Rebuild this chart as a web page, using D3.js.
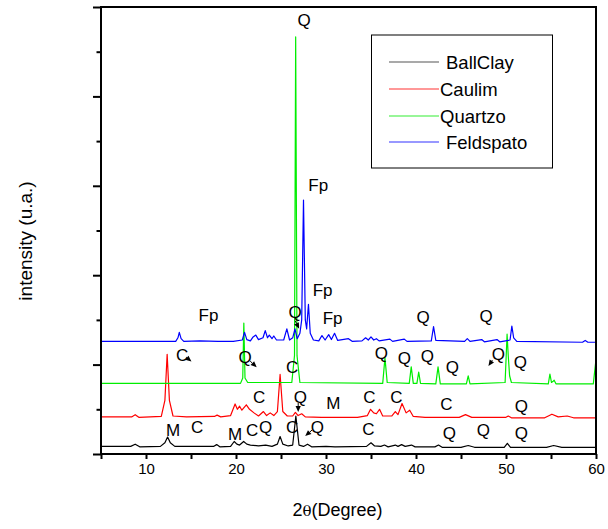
<!DOCTYPE html>
<html><head><meta charset="utf-8">
<script src="https://cdn.jsdelivr.net/npm/d3@7"></script>
<style>body{margin:0;background:#fff}svg{display:block;font-family:"Liberation Sans",Arial,sans-serif}</style>
</head><body>
<svg id="c" width="608" height="529"></svg>
<script>
// ---- data ----
const seriesNames = ["BallClay", "Caulim", "Quartzo", "Feldspato"];
const xTicksMajor = [10, 20, 30, 40, 50, 60];
const xTicksMinor = [5, 15, 25, 35, 45, 55];
const yTicksMajor = [0, 2, 4, 6, 8, 10];
const yTicksMinor = [1, 3, 5, 7, 9];

const ballClay = [[5,0.17],[8.3,0.17],[8.8,0.22],[9.3,0.16],[11.6,0.17],[12.1,0.25],[12.4,0.38],[12.7,0.25],[13.2,0.17],[17.5,0.17],[17.85,0.21],[18.2,0.16],[19.4,0.17],[19.8,0.28],[20.1,0.22],[20.4,0.2],[20.85,0.28],[21.2,0.22],[21.6,0.2],[22.5,0.18],[23.3,0.2],[24.0,0.17],[24.6,0.22],[24.9,0.39],[25.2,0.22],[25.8,0.18],[26.3,0.2],[26.65,0.85],[27.0,0.2],[27.5,0.17],[27.95,0.22],[28.4,0.16],[30.0,0.17],[31.0,0.16],[34.5,0.17],[35.0,0.25],[35.4,0.18],[36.1,0.17],[36.5,0.2],[36.9,0.16],[37.7,0.2],[38.0,0.17],[38.4,0.21],[38.8,0.17],[39.5,0.2],[39.9,0.16],[42.1,0.16],[42.5,0.2],[42.9,0.15],[45.0,0.15],[45.8,0.19],[46.5,0.15],[49.8,0.15],[50.15,0.24],[50.5,0.15],[54.5,0.15],[55.3,0.19],[56.2,0.15],[60,0.15]];

const caulim = [[5,0.83],[8.4,0.83],[8.8,0.88],[9.2,0.82],[11.7,0.84],[12.1,1.2],[12.35,2.23],[12.6,1.2],[13.0,0.85],[14.5,0.83],[17.6,0.84],[17.9,0.87],[18.3,0.83],[19.4,0.86],[19.9,1.12],[20.15,1.0],[20.4,1.07],[20.65,0.98],[21.15,1.1],[21.5,1.0],[22.0,0.92],[22.5,0.85],[23.05,0.95],[23.4,0.86],[23.8,0.92],[24.2,0.86],[24.6,0.95],[24.9,1.78],[25.2,0.95],[25.7,0.85],[26.3,0.85],[26.6,0.93],[26.9,0.86],[27.3,0.9],[27.7,0.83],[29.5,0.82],[33.5,0.82],[34.6,0.86],[34.95,1.0],[35.3,0.92],[35.6,0.9],[35.95,1.0],[36.3,0.85],[37.3,0.85],[37.7,0.95],[38.0,0.88],[38.45,1.13],[38.9,0.92],[39.3,0.98],[39.7,0.84],[41.0,0.82],[44.8,0.82],[45.5,0.88],[46.2,0.82],[50.0,0.82],[50.25,0.85],[50.6,0.81],[54.3,0.81],[55.1,0.89],[55.8,0.83],[56.8,0.85],[57.5,0.81],[60,0.81]];

const quartzo = [[5,1.58],[20.5,1.58],[20.75,1.7],[20.87,2.93],[21.0,1.7],[21.3,1.6],[26.2,1.6],[26.5,2.2],[26.63,9.33],[26.78,2.2],[27.1,1.6],[36.3,1.58],[36.55,2.15],[36.8,1.6],[39.25,1.58],[39.47,1.95],[39.7,1.58],[40.1,1.58],[40.3,1.83],[40.5,1.58],[42.2,1.57],[42.45,1.95],[42.7,1.57],[45.6,1.57],[45.8,1.75],[46.0,1.57],[49.9,1.6],[50.12,2.68],[50.25,2.2],[50.4,1.75],[50.6,1.6],[54.7,1.57],[54.88,1.79],[55.05,1.6],[55.2,1.62],[55.35,1.65],[55.55,1.57],[59.7,1.57],[59.97,2.06],[60,2.06]];

const feldspato = [[5,2.52],[13.3,2.52],[13.55,2.6],[13.7,2.72],[13.9,2.58],[14.2,2.52],[16.0,2.53],[18.0,2.52],[19.7,2.52],[20.7,2.55],[20.95,2.72],[21.2,2.56],[21.6,2.53],[21.9,2.62],[22.2,2.66],[22.5,2.56],[23.0,2.6],[23.25,2.76],[23.5,2.6],[23.7,2.66],[24.0,2.58],[24.2,2.64],[24.5,2.55],[25.3,2.55],[25.65,2.8],[25.95,2.55],[26.3,2.6],[26.55,2.8],[26.8,2.58],[27.1,2.7],[27.3,3.0],[27.5,5.68],[27.7,3.0],[27.85,2.8],[28.05,3.35],[28.25,2.7],[28.6,2.55],[29.2,2.53],[29.55,2.65],[29.9,2.55],[30.3,2.67],[30.6,2.56],[30.95,2.7],[31.3,2.54],[32.5,2.58],[32.9,2.52],[34.0,2.53],[34.4,2.6],[34.7,2.55],[35.0,2.62],[35.3,2.55],[35.6,2.58],[35.9,2.53],[37.1,2.57],[37.4,2.52],[38.7,2.57],[39.0,2.52],[41.7,2.53],[41.95,2.85],[42.2,2.54],[45.4,2.52],[45.7,2.58],[46.0,2.52],[47.3,2.56],[47.6,2.51],[49.0,2.56],[49.3,2.51],[50.45,2.55],[50.65,2.86],[50.85,2.6],[51.2,2.52],[58.5,2.5],[58.8,2.54],[59.1,2.5],[60,2.5]];

// peak labels: [2theta, intensity, text]
const peakLabels = [[27.58,9.71,"Q"],[29.14,6.02,"Fp"],[16.94,3.11,"Fp"],[26.58,3.18,"Q"],[29.62,3.67,"Fp"],[30.73,3.04,"Fp"],[40.78,3.07,"Q"],[47.79,3.09,"Q"],
[14.01,2.21,"C"],[21.02,2.17,"Q"],[26.25,1.95,"C"],[36.15,2.26,"Q"],[38.70,2.15,"Q"],[41.26,2.19,"Q"],[44.04,1.95,"Q"],[49.16,2.24,"Q"],[51.61,2.06,"Q"],
[22.57,1.28,"C"],[27.14,1.28,"Q"],[30.81,1.14,"M"],[34.81,1.28,"C"],[37.81,1.28,"C"],[43.38,1.12,"C"],[51.72,1.07,"Q"],
[13.01,0.54,"M"],[15.68,0.60,"C"],[19.91,0.45,"M"],[21.8,0.54,"C"],[23.3,0.60,"Q"],[26.25,0.60,"C"],[29.03,0.60,"Q"],[34.70,0.56,"C"],[43.71,0.47,"Q"],[47.49,0.54,"Q"],[51.72,0.47,"Q"]];
// arrows: [from2theta, fromI, to2theta, toI]
const peakArrows = [[14.45,2.17,15.05,2.07],[21.57,2.08,22.3,1.94],[26.58,2.98,27.02,2.80],[48.49,2.10,48.05,1.97],[26.91,1.14,26.91,0.94],[28.47,0.54,27.69,0.40]];

// ---- drawing ----
const series = [ballClay, caulim, quartzo, feldspato];
const colors = ["#000000", "#ff0000", "#00ee00", "#0000ff"];
const legendColors = ["#555555", "#ff3333", "#33ee33", "#3333ff"];
const W = 608, H = 529;
const m = {l: 101, r: 12, t: 7, b: 75};
const svg = d3.select("#c");
const x = d3.scaleLinear().domain([5, 60]).range([m.l, W - m.r]);
const y = d3.scaleLinear().domain([0, 10]).range([H - m.b, m.t]);

svg.append("defs").append("clipPath").attr("id", "clip")
  .append("rect").attr("x", m.l).attr("y", m.t).attr("width", W - m.r - m.l).attr("height", H - m.b - m.t);

const line = d3.line().x(d => x(d[0])).y(d => y(d[1]));
const g = svg.append("g").attr("clip-path", "url(#clip)");
series.forEach((s, i) => {
  g.append("path").datum(s).attr("d", line).attr("fill", "none")
    .attr("stroke", colors[i]).attr("stroke-width", 1.2).attr("stroke-linejoin", "round");
});

// frame
svg.append("rect").attr("x", m.l).attr("y", m.t).attr("width", W - m.r - m.l).attr("height", H - m.b - m.t)
  .attr("fill", "none").attr("stroke", "#000").attr("stroke-width", 2);

// x axis
const xa = svg.append("g").attr("transform", `translate(0,${H - m.b})`)
  .call(d3.axisBottom(x).tickValues(xTicksMajor).tickSize(5).tickPadding(4).tickFormat(d3.format("d")));
xa.select(".domain").remove();
xa.selectAll("line").attr("stroke-width", 2);
xa.selectAll("text").attr("font-size", 15).attr("fill", "#000").attr("font-family", "Liberation Sans, Arial, sans-serif");
const xm = svg.append("g").attr("transform", `translate(0,${H - m.b})`)
  .call(d3.axisBottom(x).tickValues(xTicksMinor).tickSize(5).tickFormat(""));
xm.select(".domain").remove();
xm.selectAll("line").attr("stroke-width", 2);

// y axis
const ya = svg.append("g").attr("transform", `translate(${m.l},0)`)
  .call(d3.axisLeft(y).tickValues(yTicksMajor).tickSize(8).tickFormat(""));
ya.select(".domain").remove();
ya.selectAll("line").attr("stroke-width", 2);
const ym = svg.append("g").attr("transform", `translate(${m.l},0)`)
  .call(d3.axisLeft(y).tickValues(yTicksMinor).tickSize(4.5).tickFormat(""));
ym.select(".domain").remove();
ym.selectAll("line").attr("stroke-width", 2);

// axis titles
const xt = svg.append("text").attr("x", (m.l + W - m.r) / 2 - 11).attr("y", 516).attr("text-anchor", "middle")
  .attr("font-size", 18).attr("fill", "#000");
xt.append("tspan").text("2");
xt.append("tspan").attr("font-family", "DejaVu Serif, serif").attr("font-size", 15).text("θ");
xt.append("tspan").text("(Degree)");
svg.append("text").attr("transform", `translate(32,241) rotate(-90)`).attr("text-anchor", "middle")
  .attr("font-size", 19).attr("fill", "#000").text("intensity (u.a.)");

// peak labels
svg.append("g").selectAll("text").data(peakLabels).join("text")
  .attr("x", d => x(d[0])).attr("y", d => y(d[1])).attr("dy", "0.36em").attr("text-anchor", "middle")
  .attr("font-size", 17).attr("fill", "#000").text(d => d[2]);

// arrows
const ag = svg.append("g");
peakArrows.forEach(a => {
  const x1 = x(a[0]), y1 = y(a[1]), x2 = x(a[2]), y2 = y(a[3]);
  const ang = Math.atan2(y2 - y1, x2 - x1);
  const L = 6, wd = 2.6;
  const bx = x2 - L * Math.cos(ang), by = y2 - L * Math.sin(ang);
  ag.append("line").attr("x1", x1).attr("y1", y1).attr("x2", bx).attr("y2", by).attr("stroke", "#000").attr("stroke-width", 1);
  ag.append("path").attr("d", `M${x2},${y2}L${bx - wd * Math.sin(ang)},${by + wd * Math.cos(ang)}L${bx + wd * Math.sin(ang)},${by - wd * Math.cos(ang)}Z`).attr("fill", "#000");
});

// legend
const lg = svg.append("g");
lg.append("rect").attr("x", 371.5).attr("y", 35).attr("width", 181).attr("height", 133)
  .attr("fill", "#fff").attr("stroke", "#000").attr("stroke-width", 1);
const rowsY = [62, 89, 116, 142];
const textX = [446, 440, 440, 446];
seriesNames.forEach((n, i) => {
  lg.append("line").attr("x1", 389).attr("x2", 439).attr("y1", rowsY[i]).attr("y2", rowsY[i])
    .attr("stroke", legendColors[i]).attr("stroke-width", 1.2);
  lg.append("text").attr("x", textX[i]).attr("y", rowsY[i]).attr("dy", "0.36em")
    .attr("font-size", 18.5).attr("fill", "#000").text(n);
});
</script>
</body></html>
